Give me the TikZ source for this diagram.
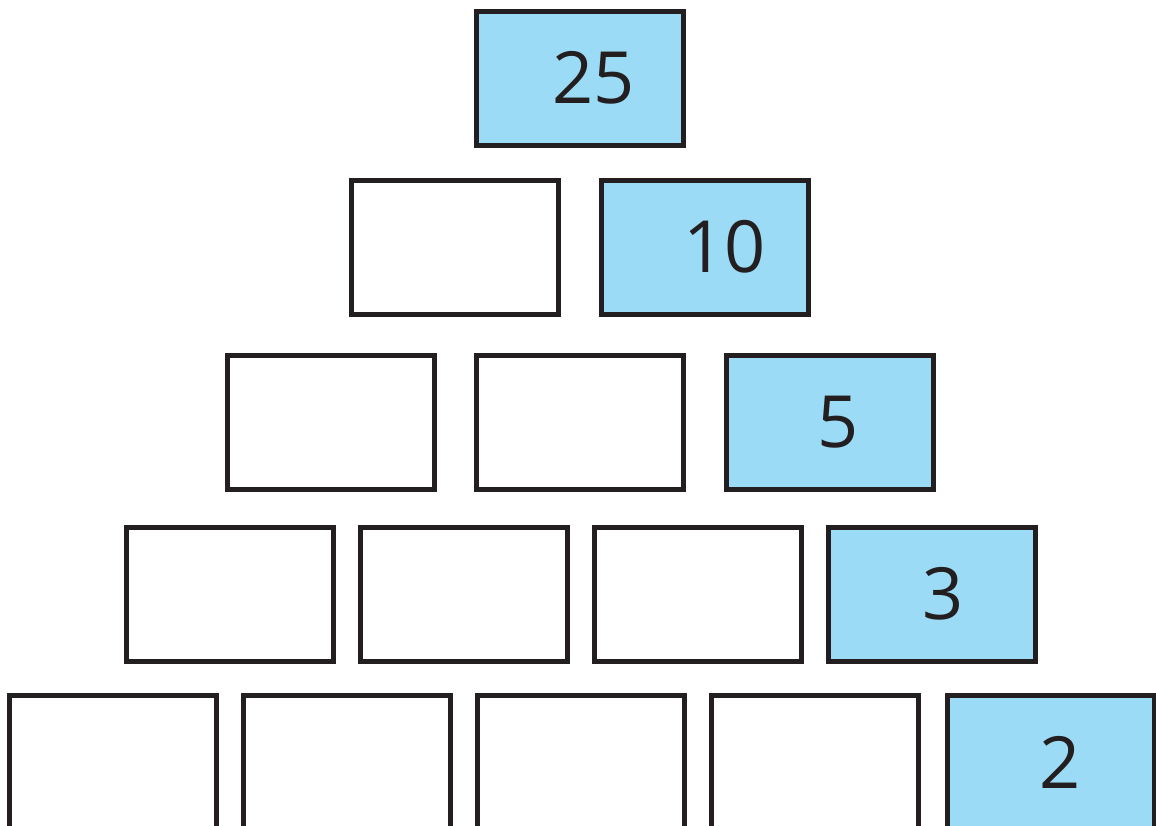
\documentclass[tikz,border=0pt]{standalone}
\usepackage{fontspec}
\setmainfont{Open Sans}
\definecolor{boxline}{HTML}{231F20}
\definecolor{boxfill}{HTML}{9CDBF6}

\begin{document}
\begin{tikzpicture}[x=0.5pt,y=-0.5pt,
        cell/.style={draw=boxline,line width=2.5pt,minimum width=103.5pt,
            minimum height=67pt,inner sep=0pt},
        given/.style={cell,fill=boxfill,text=boxline,
            font=\fontsize{36}{36}\selectfont}]
\useasboundingbox (0,0) rectangle (1156,825);

% top of the pyramid
\node[given] (a1) at (579.5,78) {\hspace*{14pt}25};

\node[cell]  (b1) at (454.5,247) {};
\node[given] (b2) at (704.5,247) {\hspace*{20pt}10};

\node[cell]  (c1) at (330.5,422) {};
\node[cell]  (c2) at (579.5,422) {};
\node[given] (c3) at (829.5,422) {\hspace*{9pt}5};

\node[cell]  (d1) at (229.5,594) {};
\node[cell]  (d2) at (463.5,594) {};
\node[cell]  (d3) at (697.5,594) {};
\node[given] (d4) at (931.5,594) {\hspace*{12pt}3};

% bottom row, cut off by the page
\node[cell]  (e1) at (112.5,762) {};
\node[cell]  (e2) at (346.5,762) {};
\node[cell]  (e3) at (580.5,762) {};
\node[cell]  (e4) at (814.5,762) {};
\node[given] (e5) at (1050.5,762) {\hspace*{10pt}2};

\end{tikzpicture}
\end{document}
